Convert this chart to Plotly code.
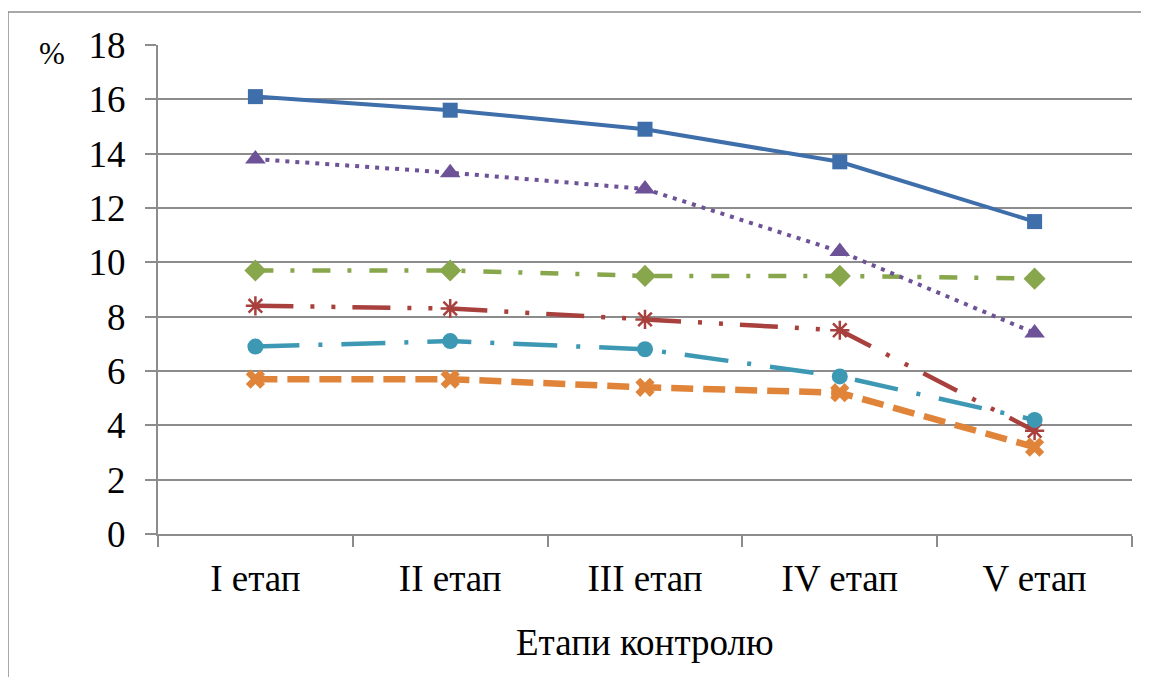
import plotly.graph_objects as go

categories = ["I етап", "II етап", "III етап", "IV етап", "V етап"]
blue_vals = [16.1, 15.6, 14.9, 13.7, 11.5]
red_vals = [8.4, 8.3, 7.9, 7.5, 3.8]
green_vals = [9.7, 9.7, 9.5, 9.5, 9.4]
purple_vals = [13.8, 13.3, 12.7, 10.4, 7.4]
teal_vals = [6.9, 7.1, 6.8, 5.8, 4.2]
orange_vals = [5.7, 5.7, 5.4, 5.2, 3.2]
y_ticks = [0, 2, 4, 6, 8, 10, 12, 14, 16, 18]

# page body has an 8px margin; compensate so the figure lines up with the window
OFF = 8
W, H = 1149 - OFF, 677 - OFF
L, R, T, B = 158 - OFF, 17, 45 - OFF, 143
pw, ph = W - L - R, H - T - B

def px_x(p):
    return (p - OFF - L) / pw

def px_y(p):
    return (H - B - (p - OFF)) / ph

fig = go.Figure()

series = [
    ("blue", blue_vals, "#3F6FAA", "solid", 4, "square", 15, None),
    ("red", red_vals, "#A8403D", "38px,17px,4px,17px,4px,17px", 4.5, "asterisk-open", 16, 2.5),
    ("green", green_vals, "#88A64C", "18px,17px,4px,18px", 4.5, "diamond", 17, None),
    ("purple", purple_vals, "#6E5298", "4px,6px", 4, "triangle-up", 18, None),
    ("teal", teal_vals, "#3D99B3", "44px,19px,4px,19px", 4.5, "circle", 16, None),
    ("orange", orange_vals, "#E0843A", "22px,10px", 6.5, "x", 17, None),
]

for name, vals, col, dash, lw, sym, ms, mlw in series:
    marker = dict(symbol=sym, size=ms, color=col)
    if mlw:
        marker["line"] = dict(color=col, width=mlw)
    else:
        marker["line"] = dict(width=0)
    fig.add_trace(go.Scatter(
        x=categories, y=vals, mode="lines+markers", name=name,
        line=dict(color=col, width=lw, dash=dash),
        marker=marker, showlegend=False,
    ))

fam = "'Liberation Serif', 'Times New Roman', serif"
font = dict(family=fam, size=37, color="#000000")

fig.update_layout(
    width=W, height=H,
    margin=dict(l=L, r=R, t=T, b=B, pad=0),
    paper_bgcolor="white", plot_bgcolor="white",
    font=font,
    xaxis=dict(
        type="category", range=[-0.5, 4.5],
        showgrid=False, showline=True, linecolor="#8C8C8C", linewidth=2,
        ticks="outside", tickson="boundaries", ticklen=11, tickwidth=2, tickcolor="#8C8C8C",
        tickfont=font, ticklabelstandoff=11, zeroline=False,
    ),
    yaxis=dict(
        range=[0, 18], tickvals=y_ticks, ticktext=[str(v) for v in y_ticks],
        showgrid=True, gridcolor="#8C8C8C", gridwidth=2,
        showline=True, linecolor="#8C8C8C", linewidth=2,
        ticks="outside", ticklen=11, tickwidth=2, tickcolor="#8C8C8C",
        tickfont=font, ticklabelstandoff=12, zeroline=False,
    ),
    shapes=[dict(
        type="rect", xref="paper", yref="paper",
        x0=px_x(8), x1=px_x(1170), y0=px_y(700), y1=px_y(12),
        line=dict(color="#8C8C8C", width=1.5), fillcolor="rgba(0,0,0,0)", layer="below",
    )],
    annotations=[
        dict(text="%", xref="paper", yref="paper", x=px_x(52), y=px_y(53),
             xanchor="center", yanchor="middle", showarrow=False,
             font=dict(family=fam, size=31, color="#000000")),
        dict(text="Етапи контролю", xref="paper", yref="paper", x=0.5, y=px_y(642),
             xanchor="center", yanchor="middle", showarrow=False, font=font),
    ],
)

fig.write_html("out.html")
